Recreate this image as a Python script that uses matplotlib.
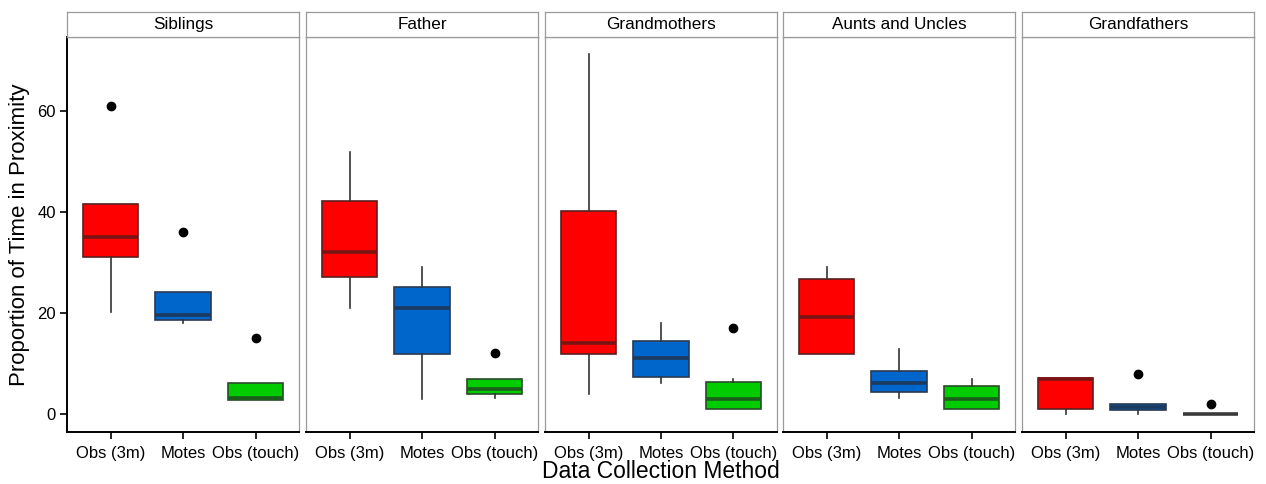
import matplotlib
matplotlib.use("Agg")
import matplotlib.pyplot as plt

plt.rcParams['font.family'] = ['Liberation Sans', 'DejaVu Sans']

panels = ["Siblings", "Father", "Grandmothers", "Aunts and Uncles", "Grandfathers"]
methods = ["Obs (3m)", "Motes", "Obs (touch)"]

# per panel, per method: (whislo, q1, median, q3, whishi)
siblings_stats = [(20.1, 31.1, 35.0, 41.6, 41.6), (18.1, 18.6, 19.6, 24.1, 24.1), (2.8, 2.8, 3.2, 6.1, 6.1)]
father_stats = [(21.0, 27.0, 32.1, 42.1, 51.9), (3.0, 11.9, 21.0, 25.1, 29.0), (3.1, 3.9, 5.0, 6.9, 6.9)]
grandmothers_stats = [(4.0, 11.9, 14.1, 40.1, 71.1), (6.1, 7.4, 11.0, 14.5, 18.0), (1.0, 1.0, 3.0, 6.4, 6.9)]
aunts_stats = [(11.9, 11.9, 19.1, 26.8, 29.0), (3.1, 4.4, 6.1, 8.5, 12.9), (1.0, 1.0, 3.0, 5.5, 6.9)]
grandfathers_stats = [(0.1, 0.9, 6.9, 7.1, 7.1), (0.1, 0.8, 1.4, 1.9, 1.9), (0.0, 0.0, 0.0, 0.0, 0.0)]
all_stats = [siblings_stats, father_stats, grandmothers_stats, aunts_stats, grandfathers_stats]

# outliers per panel, per method
siblings_out = [[61.0], [36.0], [15.0]]
father_out = [[], [], [12.0]]
grandmothers_out = [[], [], [17.0]]
aunts_out = [[], [], []]
grandfathers_out = [[], [7.9], [1.9]]
all_out = [siblings_out, father_out, grandmothers_out, aunts_out, grandfathers_out]

fill_colors = ["#FF0000", "#0066CC", "#00CC00"]
median_colors = ["#7A1414", "#1C3A5E", "#1B5E1B"]
edge_colors = ["#5A2020", "#2A3A50", "#2A4A2A"]

W, H = 1266, 484
fig = plt.figure(figsize=(W / 100, H / 100), dpi=100)

lefts = [67, 306, 545, 783, 1022]
pw = 232
top_px, bot_px = 37, 432
strip_top = 12

for i, name in enumerate(panels):
    ax = fig.add_axes([lefts[i] / W, 1 - bot_px / H, pw / W, (bot_px - top_px) / H])
    stats = []
    for j, m in enumerate(methods):
        lo, q1, med, q3, hi = all_stats[i][j]
        stats.append(dict(label=m, whislo=lo, q1=q1, med=med, q3=q3, whishi=hi,
                          fliers=all_out[i][j]))
    for j in range(3):
        mc = median_colors[j]
        if i == 4 and j == 2:
            mc = "#3a3a3a"
        ax.bxp([stats[j]], positions=[j + 1], widths=0.76, patch_artist=True,
               showcaps=False,
               boxprops=dict(facecolor=fill_colors[j], edgecolor=edge_colors[j], linewidth=1.2),
               medianprops=dict(color=mc, linewidth=2.6, solid_capstyle='butt'),
               whiskerprops=dict(color="#333333", linewidth=1.2),
               flierprops=dict(marker='o', markerfacecolor='black', markeredgecolor='black',
                               markersize=6),
               zorder=2)
    ax.set_xlim(0.4, 3.6)
    ax.set_ylim(-3.55, 74.55)
    ax.set_xticks([1, 2, 3])
    ax.set_xticklabels(methods, fontsize=12)
    ax.tick_params(axis='x', direction='out', length=5, width=1.2, color='black', pad=5)
    for s in ['top', 'right', 'left']:
        ax.spines[s].set_color('#9a9a9a')
        ax.spines[s].set_linewidth(0.9)
    ax.spines['bottom'].set_color('black')
    ax.spines['bottom'].set_linewidth(1.4)
    if i == 0:
        ax.set_yticks([0, 20, 40, 60])
        ax.tick_params(axis='y', direction='out', length=5, width=1.2, color='black',
                       labelsize=12, pad=3)
        ax.spines['left'].set_color('black')
        ax.spines['left'].set_linewidth(1.4)
        ax.set_ylabel("Proportion of Time in Proximity", fontsize=16, labelpad=5)
    else:
        ax.set_yticks([])
    # strip
    sax = fig.add_axes([lefts[i] / W, 1 - top_px / H, pw / W, (top_px - strip_top) / H])
    sax.set_xticks([])
    sax.set_yticks([])
    for s in sax.spines.values():
        s.set_color('#9a9a9a')
        s.set_linewidth(0.9)
    sax.text(0.5, 0.5, name, ha='center', va='center', fontsize=12.3, transform=sax.transAxes)

fig.text((67 + 1254) / 2 / W, 1 - 471 / H, "Data Collection Method", ha='center', va='center',
         fontsize=16.5)

fig.savefig("out.png", dpi=100)
